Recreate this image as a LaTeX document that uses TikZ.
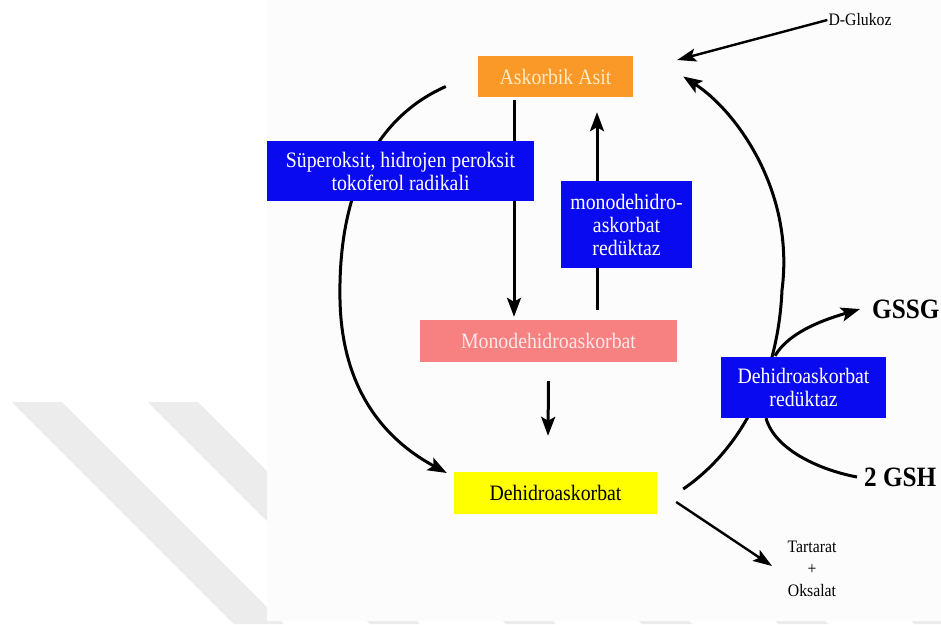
\documentclass[tikz,border=0pt]{standalone}
\usepackage{fontspec}
\setmainfont{Liberation Serif}
\newfontfamily\condfont{Liberation Serif}[FakeStretch=0.9]
\usetikzlibrary{arrows.meta,calc}
\definecolor{orangebox}{RGB}{250,152,40}
\definecolor{bluebox}{RGB}{10,10,240}
\definecolor{pinkbox}{RGB}{247,128,128}
\definecolor{yellowbox}{RGB}{255,255,0}
\definecolor{creamtext}{RGB}{255,236,196}
\definecolor{pinktext}{RGB}{255,232,232}
\definecolor{wmark}{RGB}{236,236,236}
\pgfdeclarelayer{bg}
\pgfdeclarelayer{arrows}
\pgfsetlayers{bg,arrows,main}
\tikzset{
  box/.style={inner sep=0pt, align=center, font=\condfont\fontsize{22}{23}\selectfont},
  lbl/.style={inner sep=1pt, align=center, font=\condfont\fontsize{17.5}{22}\selectfont},
  bold/.style={inner sep=1pt, font=\condfont\fontsize{28}{30}\selectfont\bfseries},
  arr/.style={line width=3pt, -{Stealth[length=19pt,width=14pt,inset=4pt]}},
  arrthin/.style={line width=2.4pt, -{Stealth[length=19pt,width=13pt,inset=4pt]}},
  plain/.style={line width=3pt}
}
\begin{document}
\begin{tikzpicture}[x=1pt,y=-1pt]
\useasboundingbox (0,0) rectangle (941,624);
\begin{pgfonlayer}{bg}
  \fill[white] (0,0) rectangle (941,624);
  \foreach \k in {0,...,5}
    \fill[wmark] ({12+136*\k},402) -- ({62+136*\k},402) -- ({284+136*\k},624) -- ({234+136*\k},624) -- cycle;
  \fill[white!99!black] (267,0) rectangle (941,621);
\end{pgfonlayer}

% nodes
\node[box, fill=orangebox, text=creamtext, minimum width=155pt, minimum height=41pt] (aa) at (555.5,76.5) {Askorbik Asit};
\node[box, fill=bluebox, text=white, minimum width=267pt, minimum height=60pt] (sup) at (400.5,171) {Süperoksit, hidrojen peroksit\\tokoferol radikali};
\node[box, fill=bluebox, text=white, minimum width=131pt, minimum height=87pt] (mdr) at (626.5,224.5) {monodehidro-\\askorbat\\redüktaz};
\node[box, fill=pinkbox, text=pinktext, minimum width=257pt, minimum height=42pt] (mda) at (548.5,341) {Monodehidroaskorbat};
\node[box, fill=yellowbox, text=black, minimum width=203pt, minimum height=42pt] (dha) at (555.5,493) {Dehidroaskorbat};
\node[box, fill=bluebox, text=white, minimum width=165pt, minimum height=61pt] (dhr) at (803.5,387.5) {Dehidroaskorbat\\redüktaz};
\node[lbl] (dg) at (860,20) {D-Glukoz};
\node[bold, anchor=west] (gssg) at (871,309) {GSSG};
\node[bold, anchor=west] (gsh) at (863,477) {2 GSH};
\node[lbl] (to) at (812,569) {Tartarat\\+\\Oksalat};
\coordinate (tipT) at (772,566);

\begin{pgfonlayer}{arrows}
  % D-Glukoz -> Askorbik Asit
  \draw[arrthin] (dg.west) -- ([xshift=44pt,yshift=16.5pt]aa.east);
  % Askorbik Asit -> Monodehidroaskorbat
  \draw[arr] ([xshift=-41.5pt,yshift=-3pt]aa.south) -- ([xshift=-34.5pt,yshift=3pt]mda.north);
  % Monodehidroaskorbat -> Askorbik Asit
  \draw[arr] ([xshift=48.5pt,yshift=10pt]mda.north) -- ([xshift=41.5pt,yshift=-15pt]aa.south);
  % Monodehidroaskorbat -> Dehidroaskorbat
  \draw[arr] ([yshift=-19pt]mda.south) -- ([xshift=-7.5pt,yshift=36pt]dha.north);
  % left big curve
  \draw[arr] ([xshift=-32pt,yshift=-10pt]aa.west)
     .. controls (370,120) and (338,200) .. (340,300)
     .. controls (342,400) and (395,445) .. ([xshift=-7pt,yshift=20pt]dha.west);
  % right big curve
  \draw[arr] ([xshift=26pt,yshift=4pt]dha.east)
     .. controls (740,450) and (778,380) .. (782,290)
     .. controls (795,190) and (735,110) .. ([xshift=50pt]aa.east);
  % to GSSG
  \draw[arr] ([xshift=-28.5pt,yshift=1pt]dhr.north)
     .. controls (790,330) and (830,318) .. ([xshift=-11pt]gssg.west);
  % from 2 GSH
  \draw[plain] ([xshift=-37.5pt]dhr.south)
     .. controls (775,450) and (820,470) .. ([xshift=-6pt]gsh.west);
  % to Tartarat + Oksalat
  \draw[arrthin] ([xshift=19pt,yshift=-9pt]dha.east) -- (tipT);
\end{pgfonlayer}
\end{tikzpicture}
\end{document}
